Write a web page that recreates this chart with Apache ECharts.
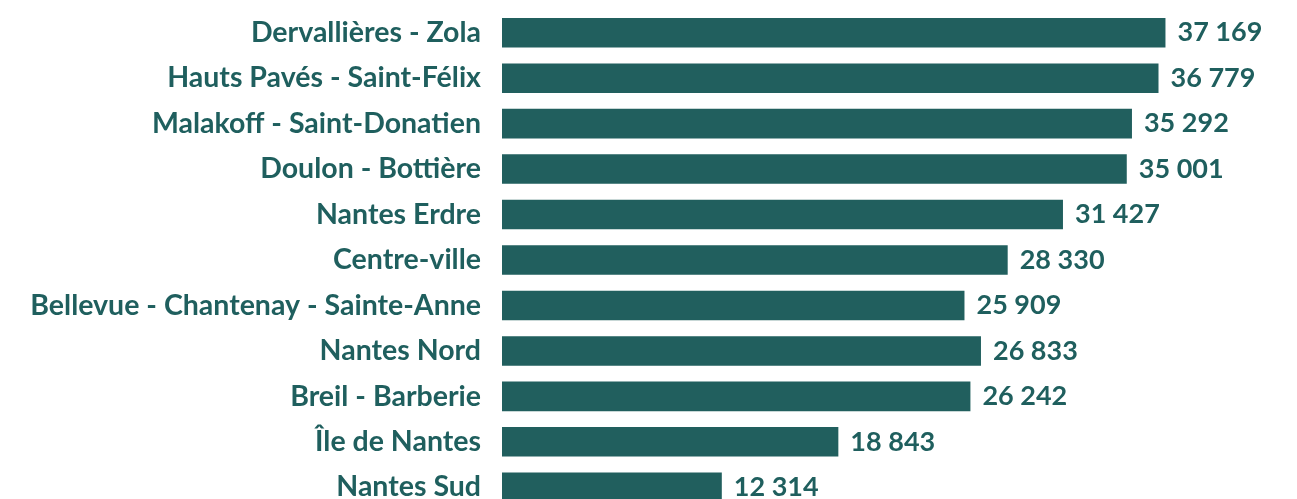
<!DOCTYPE html>
<html><head><meta charset="utf-8">
<script src="https://cdn.jsdelivr.net/npm/echarts@6/dist/echarts.min.js"></script>
<style>html,body{margin:0;padding:0;background:#fff;overflow:hidden}#c{width:1297px;height:530px}</style>
</head><body><div id="c"></div>
<script>
const categories = ["Dervallières - Zola","Hauts Pavés - Saint-Félix","Malakoff - Saint-Donatien","Doulon - Bottière","Nantes Erdre","Centre-ville","Bellevue - Chantenay - Sainte-Anne","Nantes Nord","Breil - Barberie","Île de Nantes","Nantes Sud"];
const values = [37169,36779,35292,35001,31427,28330,25909,26833,26242,18843,12314];
const fmt = v => String(v).replace(/\B(?=(\d{3})+(?!\d))/g, ' ');
const chart = echarts.init(document.getElementById('c'), null, {renderer:'canvas'});
chart.setOption({
  animation:false,
  grid:{left:502, top:10, width:714, height:500, containLabel:false},
  xAxis:{type:'value', min:0, max:40000, show:false},
  yAxis:{type:'category', data:categories, inverse:true,
    axisLine:{show:false}, axisTick:{show:false},
    axisLabel:{margin:21, color:'#1f5f5e', fontFamily:'Lato', fontWeight:'bold', fontSize:28.5}},
  series:[{type:'bar', data:values, barCategoryGap:'35%',
    itemStyle:{color:'#215f5e'},
    label:{show:true, position:'right', distance:12, color:'#1f5f5e', fontFamily:'Lato', fontWeight:'bold', fontSize:27,
      formatter:p=>fmt(p.value)}}]
});
</script></body></html>
